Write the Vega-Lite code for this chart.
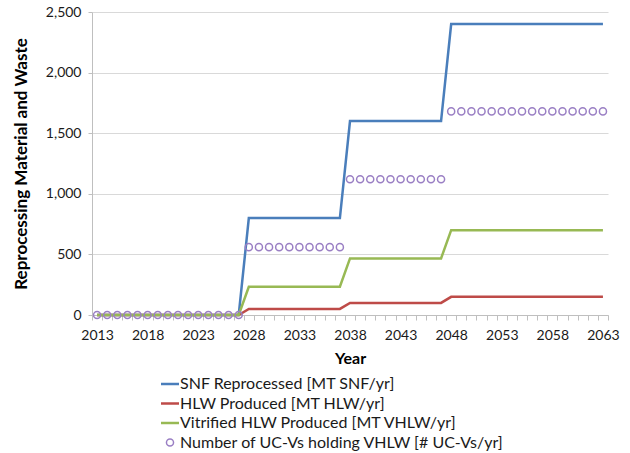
{
  "$schema": "https://vega.github.io/schema/vega-lite/v6.json",
  "autosize": "none",
  "width": 516,
  "height": 303,
  "padding": {"left": 92, "top": 12, "right": 22, "bottom": 138},
  "background": "white",
  "config": {
    "view": {"stroke": null},
    "font": "Lato",
    "axis": {"labelFont": "Lato", "titleFont": "Lato", "labelColor": "#1a1a1a", "titleColor": "#000000"}
  },
  "data": {"values": [
    {"year":2013,"s":"SNF","v":0},{"year":2014,"s":"SNF","v":0},{"year":2015,"s":"SNF","v":0},{"year":2016,"s":"SNF","v":0},{"year":2017,"s":"SNF","v":0},{"year":2018,"s":"SNF","v":0},{"year":2019,"s":"SNF","v":0},{"year":2020,"s":"SNF","v":0},{"year":2021,"s":"SNF","v":0},{"year":2022,"s":"SNF","v":0},{"year":2023,"s":"SNF","v":0},{"year":2024,"s":"SNF","v":0},{"year":2025,"s":"SNF","v":0},{"year":2026,"s":"SNF","v":0},{"year":2027,"s":"SNF","v":0},
    {"year":2028,"s":"SNF","v":800},{"year":2029,"s":"SNF","v":800},{"year":2030,"s":"SNF","v":800},{"year":2031,"s":"SNF","v":800},{"year":2032,"s":"SNF","v":800},{"year":2033,"s":"SNF","v":800},{"year":2034,"s":"SNF","v":800},{"year":2035,"s":"SNF","v":800},{"year":2036,"s":"SNF","v":800},{"year":2037,"s":"SNF","v":800},
    {"year":2038,"s":"SNF","v":1600},{"year":2039,"s":"SNF","v":1600},{"year":2040,"s":"SNF","v":1600},{"year":2041,"s":"SNF","v":1600},{"year":2042,"s":"SNF","v":1600},{"year":2043,"s":"SNF","v":1600},{"year":2044,"s":"SNF","v":1600},{"year":2045,"s":"SNF","v":1600},{"year":2046,"s":"SNF","v":1600},{"year":2047,"s":"SNF","v":1600},
    {"year":2048,"s":"SNF","v":2400},{"year":2049,"s":"SNF","v":2400},{"year":2050,"s":"SNF","v":2400},{"year":2051,"s":"SNF","v":2400},{"year":2052,"s":"SNF","v":2400},{"year":2053,"s":"SNF","v":2400},{"year":2054,"s":"SNF","v":2400},{"year":2055,"s":"SNF","v":2400},{"year":2056,"s":"SNF","v":2400},{"year":2057,"s":"SNF","v":2400},{"year":2058,"s":"SNF","v":2400},{"year":2059,"s":"SNF","v":2400},{"year":2060,"s":"SNF","v":2400},{"year":2061,"s":"SNF","v":2400},{"year":2062,"s":"SNF","v":2400},{"year":2063,"s":"SNF","v":2400},
    {"year":2013,"s":"HLW","v":0},{"year":2014,"s":"HLW","v":0},{"year":2015,"s":"HLW","v":0},{"year":2016,"s":"HLW","v":0},{"year":2017,"s":"HLW","v":0},{"year":2018,"s":"HLW","v":0},{"year":2019,"s":"HLW","v":0},{"year":2020,"s":"HLW","v":0},{"year":2021,"s":"HLW","v":0},{"year":2022,"s":"HLW","v":0},{"year":2023,"s":"HLW","v":0},{"year":2024,"s":"HLW","v":0},{"year":2025,"s":"HLW","v":0},{"year":2026,"s":"HLW","v":0},{"year":2027,"s":"HLW","v":0},
    {"year":2028,"s":"HLW","v":50},{"year":2029,"s":"HLW","v":50},{"year":2030,"s":"HLW","v":50},{"year":2031,"s":"HLW","v":50},{"year":2032,"s":"HLW","v":50},{"year":2033,"s":"HLW","v":50},{"year":2034,"s":"HLW","v":50},{"year":2035,"s":"HLW","v":50},{"year":2036,"s":"HLW","v":50},{"year":2037,"s":"HLW","v":50},
    {"year":2038,"s":"HLW","v":100},{"year":2039,"s":"HLW","v":100},{"year":2040,"s":"HLW","v":100},{"year":2041,"s":"HLW","v":100},{"year":2042,"s":"HLW","v":100},{"year":2043,"s":"HLW","v":100},{"year":2044,"s":"HLW","v":100},{"year":2045,"s":"HLW","v":100},{"year":2046,"s":"HLW","v":100},{"year":2047,"s":"HLW","v":100},
    {"year":2048,"s":"HLW","v":150},{"year":2049,"s":"HLW","v":150},{"year":2050,"s":"HLW","v":150},{"year":2051,"s":"HLW","v":150},{"year":2052,"s":"HLW","v":150},{"year":2053,"s":"HLW","v":150},{"year":2054,"s":"HLW","v":150},{"year":2055,"s":"HLW","v":150},{"year":2056,"s":"HLW","v":150},{"year":2057,"s":"HLW","v":150},{"year":2058,"s":"HLW","v":150},{"year":2059,"s":"HLW","v":150},{"year":2060,"s":"HLW","v":150},{"year":2061,"s":"HLW","v":150},{"year":2062,"s":"HLW","v":150},{"year":2063,"s":"HLW","v":150},
    {"year":2013,"s":"VHLW","v":0},{"year":2014,"s":"VHLW","v":0},{"year":2015,"s":"VHLW","v":0},{"year":2016,"s":"VHLW","v":0},{"year":2017,"s":"VHLW","v":0},{"year":2018,"s":"VHLW","v":0},{"year":2019,"s":"VHLW","v":0},{"year":2020,"s":"VHLW","v":0},{"year":2021,"s":"VHLW","v":0},{"year":2022,"s":"VHLW","v":0},{"year":2023,"s":"VHLW","v":0},{"year":2024,"s":"VHLW","v":0},{"year":2025,"s":"VHLW","v":0},{"year":2026,"s":"VHLW","v":0},{"year":2027,"s":"VHLW","v":0},
    {"year":2028,"s":"VHLW","v":233},{"year":2029,"s":"VHLW","v":233},{"year":2030,"s":"VHLW","v":233},{"year":2031,"s":"VHLW","v":233},{"year":2032,"s":"VHLW","v":233},{"year":2033,"s":"VHLW","v":233},{"year":2034,"s":"VHLW","v":233},{"year":2035,"s":"VHLW","v":233},{"year":2036,"s":"VHLW","v":233},{"year":2037,"s":"VHLW","v":233},
    {"year":2038,"s":"VHLW","v":467},{"year":2039,"s":"VHLW","v":467},{"year":2040,"s":"VHLW","v":467},{"year":2041,"s":"VHLW","v":467},{"year":2042,"s":"VHLW","v":467},{"year":2043,"s":"VHLW","v":467},{"year":2044,"s":"VHLW","v":467},{"year":2045,"s":"VHLW","v":467},{"year":2046,"s":"VHLW","v":467},{"year":2047,"s":"VHLW","v":467},
    {"year":2048,"s":"VHLW","v":700},{"year":2049,"s":"VHLW","v":700},{"year":2050,"s":"VHLW","v":700},{"year":2051,"s":"VHLW","v":700},{"year":2052,"s":"VHLW","v":700},{"year":2053,"s":"VHLW","v":700},{"year":2054,"s":"VHLW","v":700},{"year":2055,"s":"VHLW","v":700},{"year":2056,"s":"VHLW","v":700},{"year":2057,"s":"VHLW","v":700},{"year":2058,"s":"VHLW","v":700},{"year":2059,"s":"VHLW","v":700},{"year":2060,"s":"VHLW","v":700},{"year":2061,"s":"VHLW","v":700},{"year":2062,"s":"VHLW","v":700},{"year":2063,"s":"VHLW","v":700},
    {"year":2013,"s":"UCV","v":0},{"year":2014,"s":"UCV","v":0},{"year":2015,"s":"UCV","v":0},{"year":2016,"s":"UCV","v":0},{"year":2017,"s":"UCV","v":0},{"year":2018,"s":"UCV","v":0},{"year":2019,"s":"UCV","v":0},{"year":2020,"s":"UCV","v":0},{"year":2021,"s":"UCV","v":0},{"year":2022,"s":"UCV","v":0},{"year":2023,"s":"UCV","v":0},{"year":2024,"s":"UCV","v":0},{"year":2025,"s":"UCV","v":0},{"year":2026,"s":"UCV","v":0},{"year":2027,"s":"UCV","v":0},
    {"year":2028,"s":"UCV","v":560},{"year":2029,"s":"UCV","v":560},{"year":2030,"s":"UCV","v":560},{"year":2031,"s":"UCV","v":560},{"year":2032,"s":"UCV","v":560},{"year":2033,"s":"UCV","v":560},{"year":2034,"s":"UCV","v":560},{"year":2035,"s":"UCV","v":560},{"year":2036,"s":"UCV","v":560},{"year":2037,"s":"UCV","v":560},
    {"year":2038,"s":"UCV","v":1120},{"year":2039,"s":"UCV","v":1120},{"year":2040,"s":"UCV","v":1120},{"year":2041,"s":"UCV","v":1120},{"year":2042,"s":"UCV","v":1120},{"year":2043,"s":"UCV","v":1120},{"year":2044,"s":"UCV","v":1120},{"year":2045,"s":"UCV","v":1120},{"year":2046,"s":"UCV","v":1120},{"year":2047,"s":"UCV","v":1120},
    {"year":2048,"s":"UCV","v":1680},{"year":2049,"s":"UCV","v":1680},{"year":2050,"s":"UCV","v":1680},{"year":2051,"s":"UCV","v":1680},{"year":2052,"s":"UCV","v":1680},{"year":2053,"s":"UCV","v":1680},{"year":2054,"s":"UCV","v":1680},{"year":2055,"s":"UCV","v":1680},{"year":2056,"s":"UCV","v":1680},{"year":2057,"s":"UCV","v":1680},{"year":2058,"s":"UCV","v":1680},{"year":2059,"s":"UCV","v":1680},{"year":2060,"s":"UCV","v":1680},{"year":2061,"s":"UCV","v":1680},{"year":2062,"s":"UCV","v":1680},{"year":2063,"s":"UCV","v":1680}
  ]},
  "encoding": {
    "x": {
      "field": "year", "type": "quantitative",
      "scale": {"domain": [2012.5, 2063.5], "nice": false, "zero": false},
      "axis": {
        "title": "Year", "titleFontSize": 16, "titleFontWeight": "bold", "titlePadding": 8,
        "grid": false, "domainColor": "#bfbfbf", "domainWidth": 1,
        "tickColor": "#bfbfbf", "tickSize": 5,
        "tickOpacity": {"condition": {"test": "datum.value % 1 === 0", "value": 0}, "value": 1},
        "values": [2012.5,2013,2013.5,2014.5,2015.5,2016.5,2017.5,2018,2018.5,2019.5,2020.5,2021.5,2022.5,2023,2023.5,2024.5,2025.5,2026.5,2027.5,2028,2028.5,2029.5,2030.5,2031.5,2032.5,2033,2033.5,2034.5,2035.5,2036.5,2037.5,2038,2038.5,2039.5,2040.5,2041.5,2042.5,2043,2043.5,2044.5,2045.5,2046.5,2047.5,2048,2048.5,2049.5,2050.5,2051.5,2052.5,2053,2053.5,2054.5,2055.5,2056.5,2057.5,2058,2058.5,2059.5,2060.5,2061.5,2062.5,2063,2063.5],
        "labelExpr": "datum.value % 1 === 0 ? '' + datum.value : ''",
        "labelOverlap": false, "labelFlush": false, "labelFontSize": 14, "labelPadding": 8
      }
    },
    "y": {
      "field": "v", "type": "quantitative",
      "scale": {"domain": [0, 2500], "nice": false},
      "axis": {
        "title": "Reprocessing Material and Waste", "titleFontSize": 17, "titleFontWeight": "bold", "titlePadding": 15,
        "values": [0, 500, 1000, 1500, 2000, 2500], "format": ",d",
        "gridColor": "#d9d9d9", "gridWidth": 1, "domainColor": "#bfbfbf",
        "tickColor": "#bfbfbf", "tickSize": 4, "labelFontSize": 14, "labelPadding": 7
      }
    },
    "color": {
      "field": "s", "type": "nominal",
      "scale": {"domain": ["SNF", "HLW", "VHLW", "UCV"], "range": ["#4a7ebb", "#be4b48", "#98b954", "#9a7fc4"]},
      "legend": {
        "title": null, "orient": "none", "legendX": 70, "legendY": 364, "direction": "vertical",
        "labelFont": "Lato", "labelFontSize": 16, "labelColor": "#1a1a1a", "labelOffset": 2, "rowPadding": 3.5,
        "labelLimit": 450,
        "labelExpr": "datum.value === 'SNF' ? 'SNF Reprocessed [MT SNF/yr]' : datum.value === 'HLW' ? 'HLW Produced [MT HLW/yr]' : datum.value === 'VHLW' ? 'Vitrified HLW Produced [MT VHLW/yr]' : 'Number of UC-Vs holding VHLW [# UC-Vs/yr]'",
        "encode": {
          "symbols": {
            "update": {
              "shape": {"signal": "datum.value === 'UCV' ? 'circle' : 'stroke'"},
              "size": {"signal": "datum.value === 'UCV' ? 50 : 324"},
              "strokeWidth": {"signal": "datum.value === 'UCV' ? 1.5 : 2.5"},
              "fill": {"value": "transparent"}
            }
          }
        }
      }
    }
  },
  "layer": [
    {
      "transform": [{"filter": "datum.s !== 'UCV'"}],
      "mark": {"type": "line", "strokeWidth": 2.5}
    },
    {
      "transform": [{"filter": "datum.s === 'UCV'"}],
      "mark": {"type": "point", "shape": "circle", "filled": false, "size": 50, "strokeWidth": 1.5, "opacity": 1}
    }
  ]
}
